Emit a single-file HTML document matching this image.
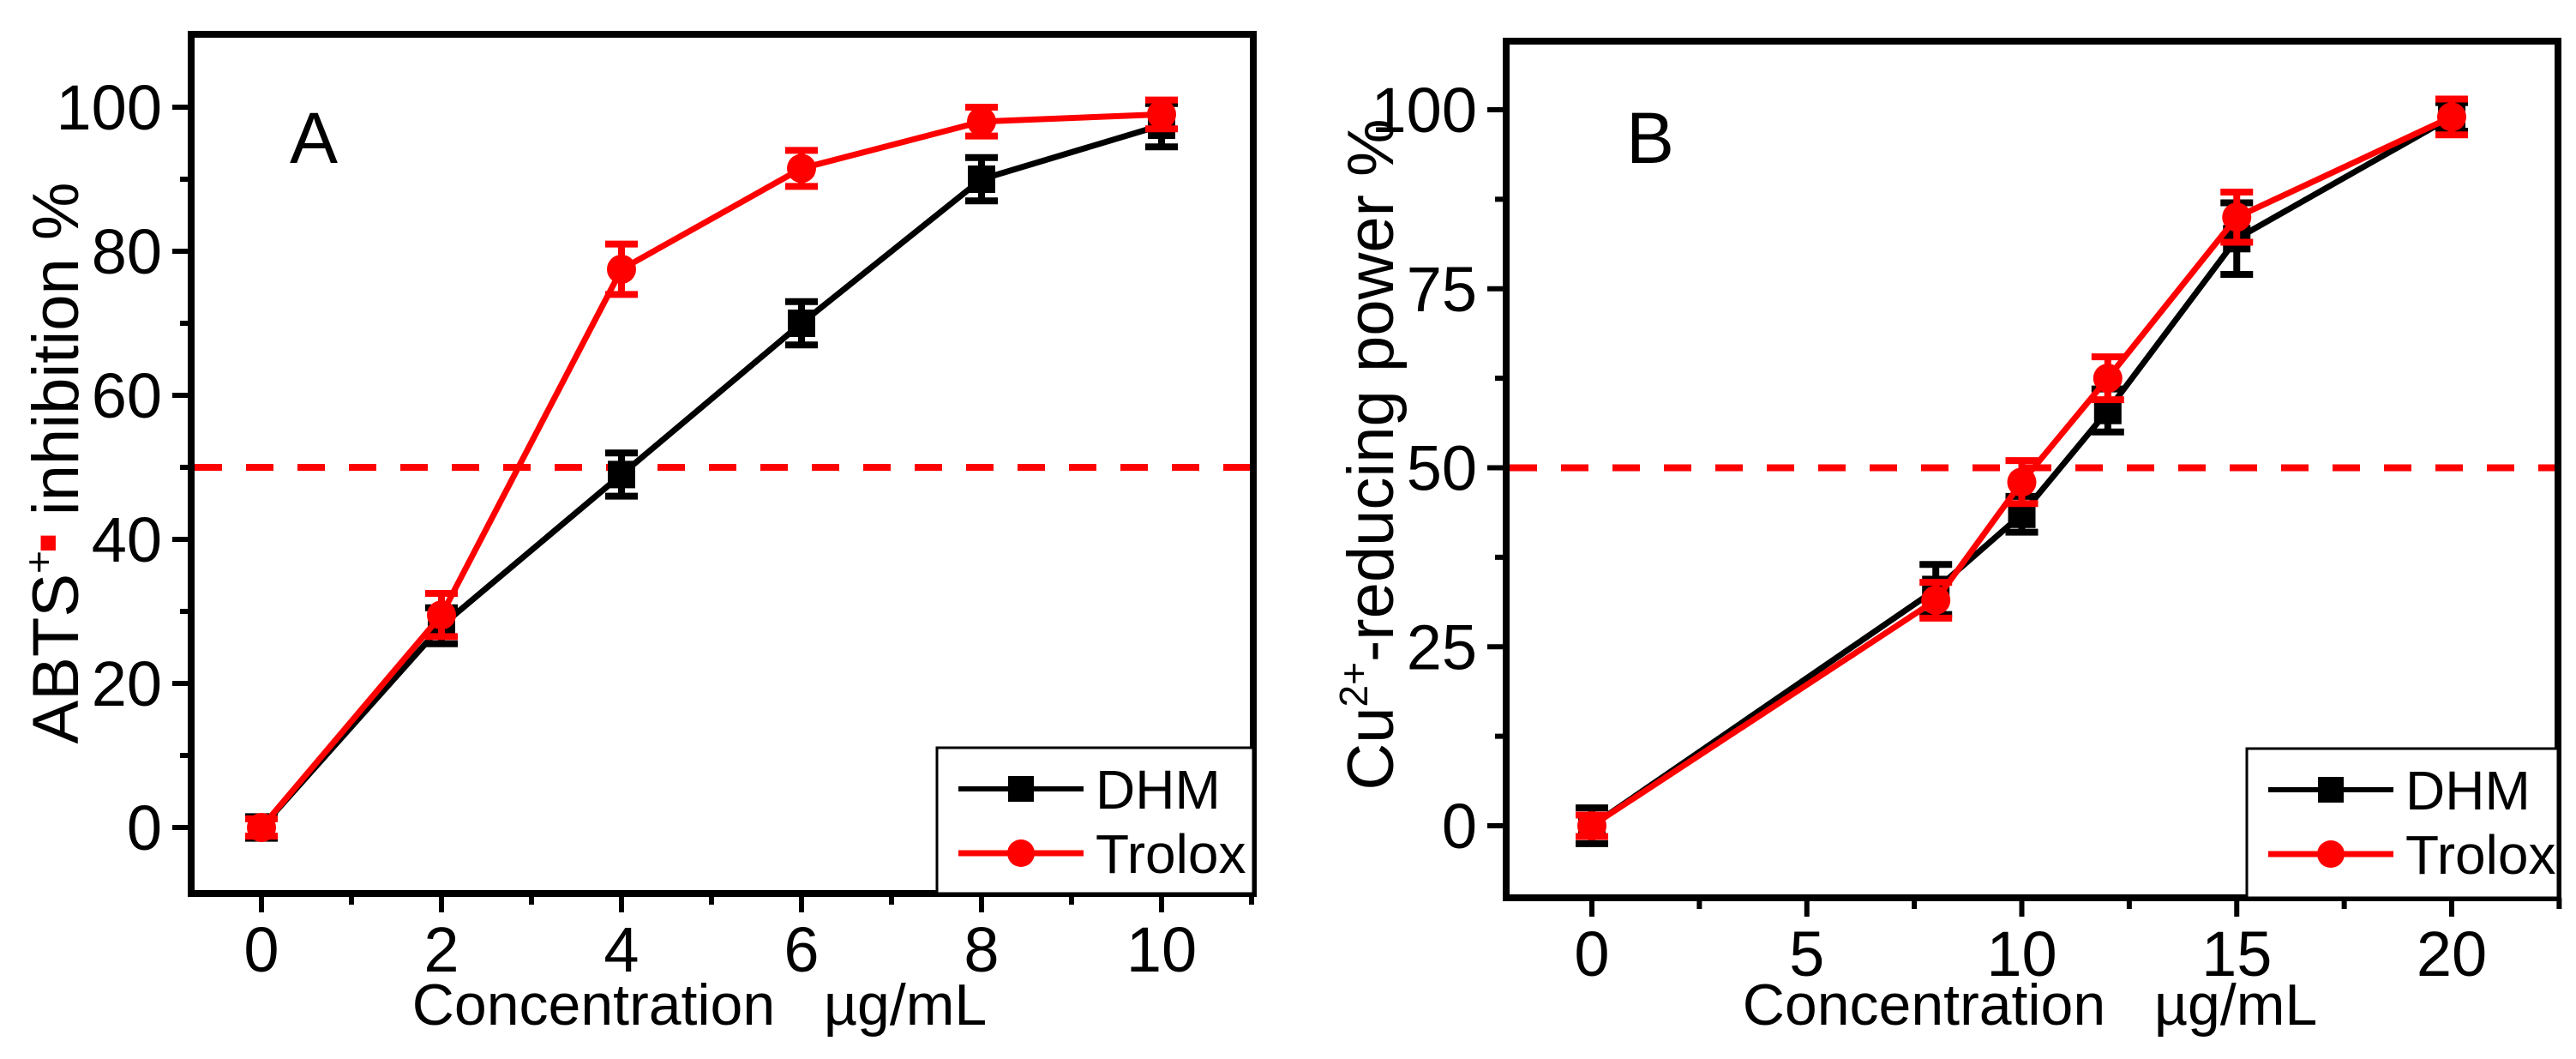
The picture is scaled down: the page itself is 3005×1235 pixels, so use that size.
<!DOCTYPE html>
<html><head><meta charset="utf-8"><style>
html,body{margin:0;padding:0;background:#fff;}
svg{display:block;font-family:"Liberation Sans",Arial,sans-serif;}
.pre{white-space:pre;}
</style></head><body>
<svg id="chart" width="3005" height="1235" viewBox="0 0 3005 1235" xmlns="http://www.w3.org/2000/svg">
<g id="pA"></g>
<g id="pB"></g>
</svg>
<script>
// Panel A data
const aX = [0, 2, 4, 6, 8, 10];
const aDHM = [0, 28, 49, 70, 90, 97.5];
const aDHMErr = [1.5, 2.5, 3, 3, 3, 3];
const aTrolox = [0, 29.5, 77.5, 91.5, 98, 99];
const aTroloxErr = [1.2, 3, 3.5, 2.5, 2, 2];
const aXTicks = [0, 2, 4, 6, 8, 10];
const aYTicks = [0, 20, 40, 60, 80, 100];
// Panel B data
const bX = [0, 8, 10, 12, 15, 20];
const bDHM = [0, 33, 43.5, 58, 82, 99];
const bDHMErr = [2.5, 3.5, 2.5, 3, 5, 2];
const bTrolox = [0, 31.5, 48, 62.5, 85, 99];
const bTroloxErr = [1.5, 2.5, 3, 3, 3.5, 2.5];
const bXTicks = [0, 5, 10, 15, 20];
const bYTicks = [0, 25, 50, 75, 100];
const threshold = 50;

const NS = "http://www.w3.org/2000/svg";
function mk(parent, tag, attrs, text) {
  const e = document.createElementNS(NS, tag);
  for (const k in attrs) e.setAttribute(k, attrs[k]);
  if (text !== undefined) e.textContent = text;
  parent.appendChild(e);
  return e;
}

function panel(g, cfg) {
  const sx = v => cfg.px0 + (v - cfg.x0) / (cfg.x1 - cfg.x0) * (cfg.px1 - cfg.px0);
  const sy = v => cfg.py0 + (v - cfg.y0) / (cfg.y1 - cfg.y0) * (cfg.py1 - cfg.py0);
  const L = cfg.L, R = cfg.R, T = cfg.T, B = cfg.B;

  for (let v = cfg.xMin; v <= cfg.xMax + 1e-9; v += cfg.xMinor) {
    const x = sx(v);
    const major = cfg.xTicks.some(t => Math.abs(t - v) < 1e-9);
    const t = mk(g, "line", {x1: x, x2: x, y1: B, y2: B + (major ? 22 : 13), stroke: "#000", "stroke-width": 6});
    
    
  }
  for (let v = cfg.yMin; v <= cfg.yMax + 1e-9; v += cfg.yMinor) {
    const y = sy(v);
    const major = cfg.yTicks.some(t => Math.abs(t - v) < 1e-9);
    const t = mk(g, "line", {x1: L, x2: L - (major ? 22 : 13), y1: y, y2: y, stroke: "#000", "stroke-width": 6});
    
    
  }
  cfg.xTicks.forEach(v => {
    const t = mk(g, "text", {x: sx(v), y: B + 91, "font-size": 74, "text-anchor": "middle"}, String(v));
    
    
  });
  cfg.yTicks.forEach(v => {
    const t = mk(g, "text", {x: L - 34, y: sy(v) + 26, "font-size": 74, "text-anchor": "end"}, String(v));
    
    
  });

  const d = mk(g, "line", {x1: L + 4, x2: R, y1: sy(threshold), y2: sy(threshold), stroke: "#ff0000", "stroke-width": 8, "stroke-dasharray": "32 28"});
  
  

  const series = [
    {name: "dhm", xs: cfg.xs, ys: cfg.dhm, err: cfg.dhmErr, color: "#000", marker: "square"},
    {name: "trolox", xs: cfg.xs, ys: cfg.trolox, err: cfg.troloxErr, color: "#ff0000", marker: "circle"}
  ];
  series.forEach(s => {
    const sg = mk(g, "g", {});
    
    
    const pts = s.xs.map((x, i) => sx(x) + "," + sy(s.ys[i])).join(" ");
    const pl = mk(sg, "polyline", {points: pts, fill: "none", stroke: s.color, "stroke-width": 7});
    
    
    s.xs.forEach((xv, i) => {
      const x = sx(xv), y = sy(s.ys[i]);
      const yt = sy(s.ys[i] + s.err[i]), yb = sy(s.ys[i] - s.err[i]);
      const eb = mk(sg, "path", {d: `M${x},${yt}V${yb}M${x-19},${yt}H${x+19}M${x-19},${yb}H${x+19}`, stroke: s.color, "stroke-width": 8, fill: "none"});
      
      
      let m;
      if (s.marker === "square") m = mk(sg, "rect", {x: x - 16, y: y - 16, width: 32, height: 32, fill: s.color});
      else m = mk(sg, "circle", {cx: x, cy: y, r: 17, fill: s.color});
      
      
    });
  });

  const f = mk(g, "rect", {x: L, y: T, width: R - L, height: B - T, fill: "none", stroke: "#000", "stroke-width": 8});
  
  

  const lg = mk(g, "g", {});
  
  
  const lb = mk(lg, "rect", {x: cfg.legX, y: cfg.legY, width: R - cfg.legX, height: B - cfg.legY, fill: "#fff", stroke: "#000", "stroke-width": 3});
  
  
  const e1 = mk(lg, "g", {});
  
  
  mk(e1, "line", {x1: cfg.legX + 25, x2: cfg.legX + 171, y1: cfg.legY + 48, y2: cfg.legY + 48, stroke: "#000", "stroke-width": 6});
  mk(e1, "rect", {x: cfg.legX + 83, y: cfg.legY + 33, width: 30, height: 30, fill: "#000"});
  mk(e1, "text", {x: cfg.legX + 185, y: cfg.legY + 71, "font-size": 64}, "DHM");
  const e2 = mk(lg, "g", {});
  
  
  mk(e2, "line", {x1: cfg.legX + 25, x2: cfg.legX + 171, y1: cfg.legY + 123, y2: cfg.legY + 123, stroke: "#ff0000", "stroke-width": 7});
  mk(e2, "circle", {cx: cfg.legX + 98, cy: cfg.legY + 123, r: 16, fill: "#ff0000"});
  mk(e2, "text", {x: cfg.legX + 185, y: cfg.legY + 146, "font-size": 64}, "Trolox");

  const pl = mk(g, "text", {x: cfg.letterX, y: 190, "font-size": 84}, cfg.letter);
  
  

  const xt = mk(g, "text", {x: cfg.xTitleX, y: 1195, "font-size": 68, "text-anchor": "middle", "class": "pre"}, "Concentration   \u00b5g/mL");
  
  
}

const gA = document.getElementById("pA");
panel(gA, {L: 223, R: 1462, T: 40, B: 1042, x0: 0, x1: 10, px0: 305, px1: 1355, y0: 0, y1: 100, py0: 965, py1: 125,
  xMin: 0, xMax: 11, xMinor: 1, yMin: 0, yMax: 100, yMinor: 10, xTicks: aXTicks, yTicks: aYTicks,
  xs: aX, dhm: aDHM, dhmErr: aDHMErr, trolox: aTrolox, troloxErr: aTroloxErr,
  legX: 1093, legY: 872, letter: "A", letterX: 338, xTitleX: 816});
const gB = document.getElementById("pB");
panel(gB, {L: 1757, R: 2984, T: 48, B: 1047, x0: 0, x1: 20, px0: 1857, px1: 2860, y0: 0, y1: 100, py0: 963, py1: 128,
  xMin: 0, xMax: 22.5, xMinor: 2.5, yMin: 0, yMax: 100, yMinor: 12.5, xTicks: bXTicks, yTicks: bYTicks,
  xs: bX, dhm: bDHM, dhmErr: bDHMErr, trolox: bTrolox, troloxErr: bTroloxErr,
  legX: 2621, legY: 873, letter: "B", letterX: 1897, xTitleX: 2368});

const yA = mk(gA, "text", {transform: "translate(91,540) rotate(-90)", "font-size": 76, "text-anchor": "middle", "class": "pre"});


mk(yA, "tspan", {}, "ABTS");
mk(yA, "tspan", {dy: -30, "font-size": 46}, "+");
mk(yA, "tspan", {dy: 6, fill: "#ff0000", "font-size": 36, dx: -2}, "\u25A0");
mk(yA, "tspan", {dy: 24}, " inhibition %");
const yB = mk(gB, "text", {transform: "translate(1625,530) rotate(-90)", "font-size": 76, "text-anchor": "middle"});


mk(yB, "tspan", {}, "Cu");
mk(yB, "tspan", {dy: -30, "font-size": 46}, "2+");
mk(yB, "tspan", {dy: 30}, "-reducing power %");
</script>
</body></html>
